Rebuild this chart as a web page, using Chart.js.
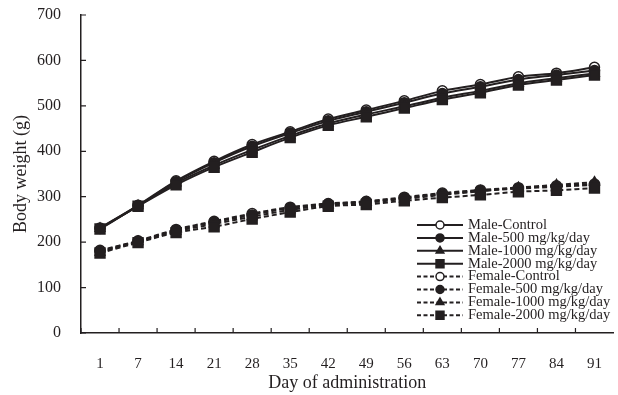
<!DOCTYPE html>
<html>
<head>
<meta charset="utf-8">
<script src="https://cdn.jsdelivr.net/npm/chart.js@4.4.1/dist/chart.umd.min.js"></script>
<style>
html, body { margin: 0; padding: 0; background: #fff; overflow: hidden; }
</style>
</head>
<body>
<canvas id="bodyWeightChart" width="622" height="395"></canvas>
<script>
// Body weight by day of administration

const days = [1, 7, 14, 21, 28, 35, 42, 49, 56, 63, 70, 77, 84, 91];
const yTicks = [0, 100, 200, 300, 400, 500, 600, 700];

const maleControl = [231, 281, 335, 378, 415, 443, 471, 491, 511, 533, 547, 564, 572, 585];
const male500 = [230, 280, 333, 375, 411, 440, 467, 487, 507, 527, 542, 558, 568, 578];
const male1000 = [230, 280, 330, 369, 403, 434, 461, 481, 499, 518, 533, 550, 561, 571];
const male2000 = [229, 279, 326, 365, 398, 430, 457, 476, 495, 514, 529, 546, 557, 568];

const femaleControl = [182, 203, 228, 246, 263, 277, 285, 290, 299, 308, 315, 320, 324, 328];
const female500 = [180, 202, 226, 244, 260, 275, 284, 289, 297, 306, 313, 318, 322, 326];
const female1000 = [178, 201, 224, 240, 256, 271, 282, 287, 295, 304, 312, 320, 326, 332];
const female2000 = [176, 199, 221, 234, 251, 266, 279, 283, 291, 298, 304, 311, 314, 319];

const ink = '#231f20';

function makeSeries(label, data, marker, dashed, order) {
    const radius = { open: 5, circle: 5, triangle: 5.5, rect: 7 }[marker];
    return {
        label: label,
        data: data,
        order: order,
        borderColor: ink,
        borderWidth: 2,
        borderDash: dashed ? [5, 3] : [],
        pointStyle: marker === 'open' ? 'circle' : marker,
        pointRadius: radius,
        pointHoverRadius: radius,
        pointBackgroundColor: marker === 'open' ? '#fff' : ink,
        pointBorderColor: ink,
        pointBorderWidth: 1.5,
        tension: 0.3,
        fill: false
    };
}

// short tick marks pointing into the plot
const innerTicks = {
    id: 'innerTicks',
    afterDraw(chart) {
        const { ctx, chartArea, scales: { x, y } } = chart;
        ctx.save();
        ctx.strokeStyle = ink;
        ctx.lineWidth = 1.2;
        ctx.beginPath();
        y.ticks.forEach((t, i) => {
            const py = y.getPixelForTick(i);
            ctx.moveTo(chartArea.left, py);
            ctx.lineTo(chartArea.left + 5, py);
        });
        const half = (x.getPixelForTick(1) - x.getPixelForTick(0)) / 2;
        x.ticks.forEach((t, i) => {
            const px = x.getPixelForTick(i) - half;
            ctx.moveTo(px, chartArea.bottom);
            ctx.lineTo(px, chartArea.bottom - 5);
        });
        ctx.stroke();
        ctx.restore();
    }
};

// legend drawn inside the plot, lower right
const insideLegend = {
    id: 'insideLegend',
    afterDraw(chart, args, opts) {
        const ctx = chart.ctx;
        ctx.save();
        ctx.font = opts.font;
        ctx.textBaseline = 'middle';
        ctx.textAlign = 'left';
        chart.data.datasets.forEach((ds, i) => {
            const yy = opts.top + i * opts.rowHeight;
            ctx.strokeStyle = ds.borderColor;
            ctx.lineWidth = ds.borderWidth;
            ctx.setLineDash(ds.borderDash.length ? [4, 2.5] : []);
            ctx.beginPath();
            ctx.moveTo(opts.left, yy);
            ctx.lineTo(opts.left + opts.lineLength, yy);
            ctx.stroke();
            ctx.setLineDash([]);
            ctx.fillStyle = ds.pointBackgroundColor;
            ctx.strokeStyle = ds.pointBorderColor;
            ctx.lineWidth = ds.pointBorderWidth;
            Chart.helpers.drawPoint(ctx, {
                pointStyle: ds.pointStyle,
                radius: ds.pointRadius * 0.8,
                borderWidth: ds.pointBorderWidth,
                rotation: 0
            }, opts.left + opts.lineLength / 2, yy);
            ctx.fillStyle = ink;
            ctx.fillText(ds.label, opts.left + opts.lineLength + opts.gap, yy);
        });
        ctx.restore();
    }
};

Chart.defaults.font.family = '"Liberation Serif", "DejaVu Serif", serif';
Chart.defaults.color = ink;

const ctx = document.getElementById('bodyWeightChart').getContext('2d');
new Chart(ctx, {
    type: 'line',
    data: {
        labels: days,
        datasets: [
            makeSeries('Male-Control', maleControl, 'open', false, 8),
            makeSeries('Male-500 mg/kg/day', male500, 'circle', false, 7),
            makeSeries('Male-1000 mg/kg/day', male1000, 'triangle', false, 6),
            makeSeries('Male-2000 mg/kg/day', male2000, 'rect', false, 5),
            makeSeries('Female-Control', femaleControl, 'open', true, 4),
            makeSeries('Female-500 mg/kg/day', female500, 'circle', true, 3),
            makeSeries('Female-1000 mg/kg/day', female1000, 'triangle', true, 2),
            makeSeries('Female-2000 mg/kg/day', female2000, 'rect', true, 1)
        ]
    },
    options: {
        responsive: false,
        animation: false,
        events: [],
        layout: { padding: { top: 15, right: 1, left: 0, bottom: 0 } },
        plugins: {
            legend: { display: false },
            tooltip: { enabled: false },
            insideLegend: {
                font: '14.5px "Liberation Serif", serif',
                top: 225,
                rowHeight: 12.9,
                left: 417,
                lineLength: 46,
                gap: 5
            }
        },
        scales: {
            x: {
                type: 'category',
                offset: true,
                grid: { display: false, offset: true },
                border: { display: true, color: ink, width: 1.5 },
                ticks: { font: { size: 15 }, padding: 14, maxRotation: 0, autoSkip: false },
                title: {
                    display: true,
                    text: 'Day of administration',
                    font: { size: 18 },
                    padding: { top: 0, bottom: 1 }
                },
                afterFit(scale) {
                    scale.height = 62;
                    scale.paddingLeft = 0;
                    scale.paddingRight = 0;
                }
            },
            y: {
                min: 0,
                max: 700,
                afterBuildTicks(scale) { scale.ticks = yTicks.map(v => ({ value: v })); },
                grid: { display: false },
                border: { display: true, color: ink, width: 1.5 },
                ticks: { font: { size: 16 }, padding: 12 },
                title: {
                    display: true,
                    text: 'Body weight (g)',
                    font: { size: 18 },
                    padding: { top: 10, bottom: 10 }
                },
                afterFit(scale) {
                    scale.width = 81;
                    scale.paddingTop = 0;
                    scale.paddingBottom = 0;
                }
            }
        }
    },
    plugins: [innerTicks, insideLegend]
});
</script>
</body>
</html>
